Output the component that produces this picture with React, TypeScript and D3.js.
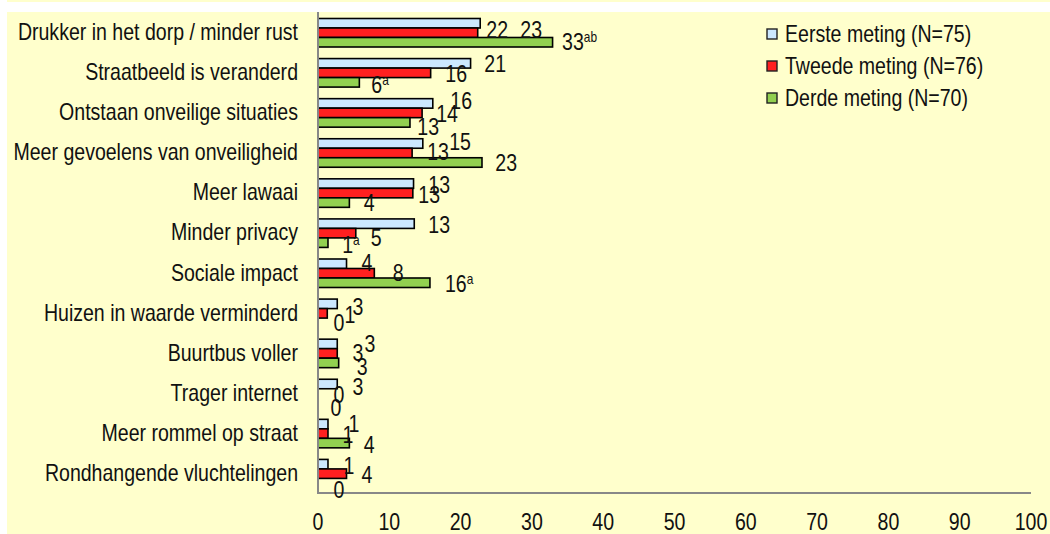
import React, { useRef, useEffect } from "react";
import * as d3 from "d3";

// categories (top to bottom)
const categories = [
  "Drukker in het dorp / minder rust",
  "Straatbeeld is veranderd",
  "Ontstaan onveilige situaties",
  "Meer gevoelens van onveiligheid",
  "Meer lawaai",
  "Minder privacy",
  "Sociale impact",
  "Huizen in waarde verminderd",
  "Buurtbus voller",
  "Trager internet",
  "Meer rommel op straat",
  "Rondhangende vluchtelingen",
];

const seriesNames = ["Eerste meting (N=75)", "Tweede meting (N=76)", "Derde meting (N=70)"];

// percentages
const eersteValues = [22.75, 21.4, 16.1, 14.7, 13.4, 13.5, 4.0, 2.7, 2.7, 2.7, 1.4, 1.4];
const tweedeValues = [22.4, 15.8, 14.6, 13.2, 13.3, 5.3, 7.9, 1.3, 2.7, 0, 1.4, 4.0];
const derdeValues = [32.9, 5.8, 12.9, 23.0, 4.4, 1.4, 15.7, 0, 2.9, 0, 4.4, 0];

// data labels as printed
const eersteLabels = ["23", "21", "16", "15", "13", "13", "4", "3", "3", "3", "1", "1"];
const tweedeLabels = ["22", "16", "14", "13", "13", "5", "8", "1", "3", "0", "1", "4"];
const derdeLabels = ["33", "6", "13", "23", "4", "1", "16", "0", "3", "0", "4", "0"];
const derdeSup = ["ab", "a", "", "", "", "a", "a", "", "", "", "", ""];

const xTicks = [0, 10, 20, 30, 40, 50, 60, 70, 80, 90, 100];

// label offsets (px) from bar end / bar centre, as they were dragged in the original
const labelDx = [
  [51, 19.5, 27], [24.6, 25.5, 20.7], [28.4, 25, 18.2], [37.3, 26, 24.2],
  [25.6, 16.3, 19.7], [24.9, 20.3, 23], [20.5, 23.8, 29.2], [20.8, 22.7, 21],
  [32.8, 20.8, 23.4], [20.8, 21, 18], [26, 20, 19.7], [21, 20.5, 21],
];
const labelDy = [
  [6.75, -2.75, 0], [0.75, 1.25, 2.75], [-2.25, 1.25, 4.75], [-1.25, -0.75, 0.75],
  [1.75, 2.25, 0.75], [1.75, 5.25, 2.75], [-1.25, -0.75, 0.75], [2.75, 1.25, 0],
  [0, -0.75, 3.75], [2.75, 1.25, 4.75], [0, 1.25, 1.75], [1.75, 1.25, 6.75],
];

const App = () => {
  const ref = useRef<SVGSVGElement>(null);

  useEffect(() => {
    const svgWidth = 1050;
    const svgHeight = 534;
    const bg = "#ffffcc";
    const axisColor = "#888888";
    const fontColor = "#111111";
    const colors = ["#cce8ff", "#ff2020", "#92d050"];
    const font = "'Liberation Sans', Arial, sans-serif";
    const fontSize = 23;
    const squeeze = 0.85; // original uses a narrow face

    const svg = d3.select(ref.current)
      .attr("width", svgWidth)
      .attr("height", svgHeight);
    svg.selectAll("*").remove();

    // narrow text helper
    const addText = (parent: any, x: number, y: number, anchor: string) =>
      parent.append("text")
        .attr("transform", `translate(${x},${y}) scale(${squeeze},1)`)
        .attr("text-anchor", anchor)
        .style("font-family", font)
        .style("font-size", fontSize + "px")
        .style("fill", fontColor);

    // background pieces
    svg.append("rect").attr("x", 0).attr("y", 0).attr("width", svgWidth).attr("height", svgHeight).attr("fill", "#ffffff");
    svg.append("rect").attr("x", 7).attr("y", 0).attr("width", svgWidth - 7).attr("height", 2).attr("fill", bg);
    svg.append("rect").attr("x", 7).attr("y", 12).attr("width", svgWidth - 7).attr("height", svgHeight - 12).attr("fill", bg);

    const xScale = d3.scaleLinear().domain([0, 100]).range([318, 1031]);
    const yScale = d3.scaleBand<string>().domain(categories).range([12, 493]).padding(0);
    const inner = d3.scaleBand<number>().domain([0, 1, 2]).range([6.5, 35]);

    const series = [eersteValues, tweedeValues, derdeValues];
    const labels = [eersteLabels, tweedeLabels, derdeLabels];

    // bars
    const g = svg.append("g");
    categories.forEach((cat, i) => {
      series.forEach((vals, s) => {
        g.append("rect")
          .attr("x", xScale(0))
          .attr("y", (yScale(cat) as number) + (inner(s) as number))
          .attr("width", xScale(vals[i]) - xScale(0))
          .attr("height", inner.bandwidth())
          .attr("fill", colors[s])
          .attr("stroke", vals[i] > 0 ? "#000" : "none")
          .attr("stroke-width", 1.6);
      });
    });

    // axes
    svg.append("line")
      .attr("x1", xScale(0)).attr("x2", xScale(0))
      .attr("y1", 12).attr("y2", 494)
      .attr("stroke", axisColor).attr("stroke-width", 2);
    svg.append("line")
      .attr("x1", xScale(0) - 1).attr("x2", xScale(100))
      .attr("y1", 493).attr("y2", 493)
      .attr("stroke", axisColor).attr("stroke-width", 2);

    // x tick labels
    const tg = svg.append("g");
    xTicks.forEach(d => {
      addText(tg, xScale(d), 530, "middle").text(d);
    });

    // category labels
    const cg = svg.append("g");
    categories.forEach(d => {
      addText(cg, 298, (yScale(d) as number) + yScale.bandwidth() / 2 + 8, "end").text(d);
    });

    // data labels
    const lg = svg.append("g");
    categories.forEach((cat, i) => {
      series.forEach((vals, s) => {
        const cx = xScale(vals[i]) + labelDx[i][s];
        const cy = (yScale(cat) as number) + (inner(s) as number) + inner.bandwidth() / 2 + labelDy[i][s];
        const t = addText(lg, cx, cy + 8, "middle");
        t.append("tspan").text(labels[s][i]);
        if (s === 2 && derdeSup[i]) {
          t.append("tspan")
            .attr("dy", -8)
            .style("font-size", "14px")
            .text(derdeSup[i]);
        }
      });
    });

    // legend
    const legend = svg.append("g");
    seriesNames.forEach((name, s) => {
      const ly = 34 + s * 32;
      legend.append("rect")
        .attr("x", 767)
        .attr("y", ly - 5)
        .attr("width", 10)
        .attr("height", 10)
        .attr("fill", colors[s])
        .attr("stroke", "#222")
        .attr("stroke-width", 1.4);
      addText(legend, 785, ly + 8, "start").text(name);
    });
  }, []);

  return (
    <div style={{ position: "absolute", left: 0, top: 0 }}>
      <svg ref={ref} style={{ display: "block" }}></svg>
    </div>
  );
};

export default App;
